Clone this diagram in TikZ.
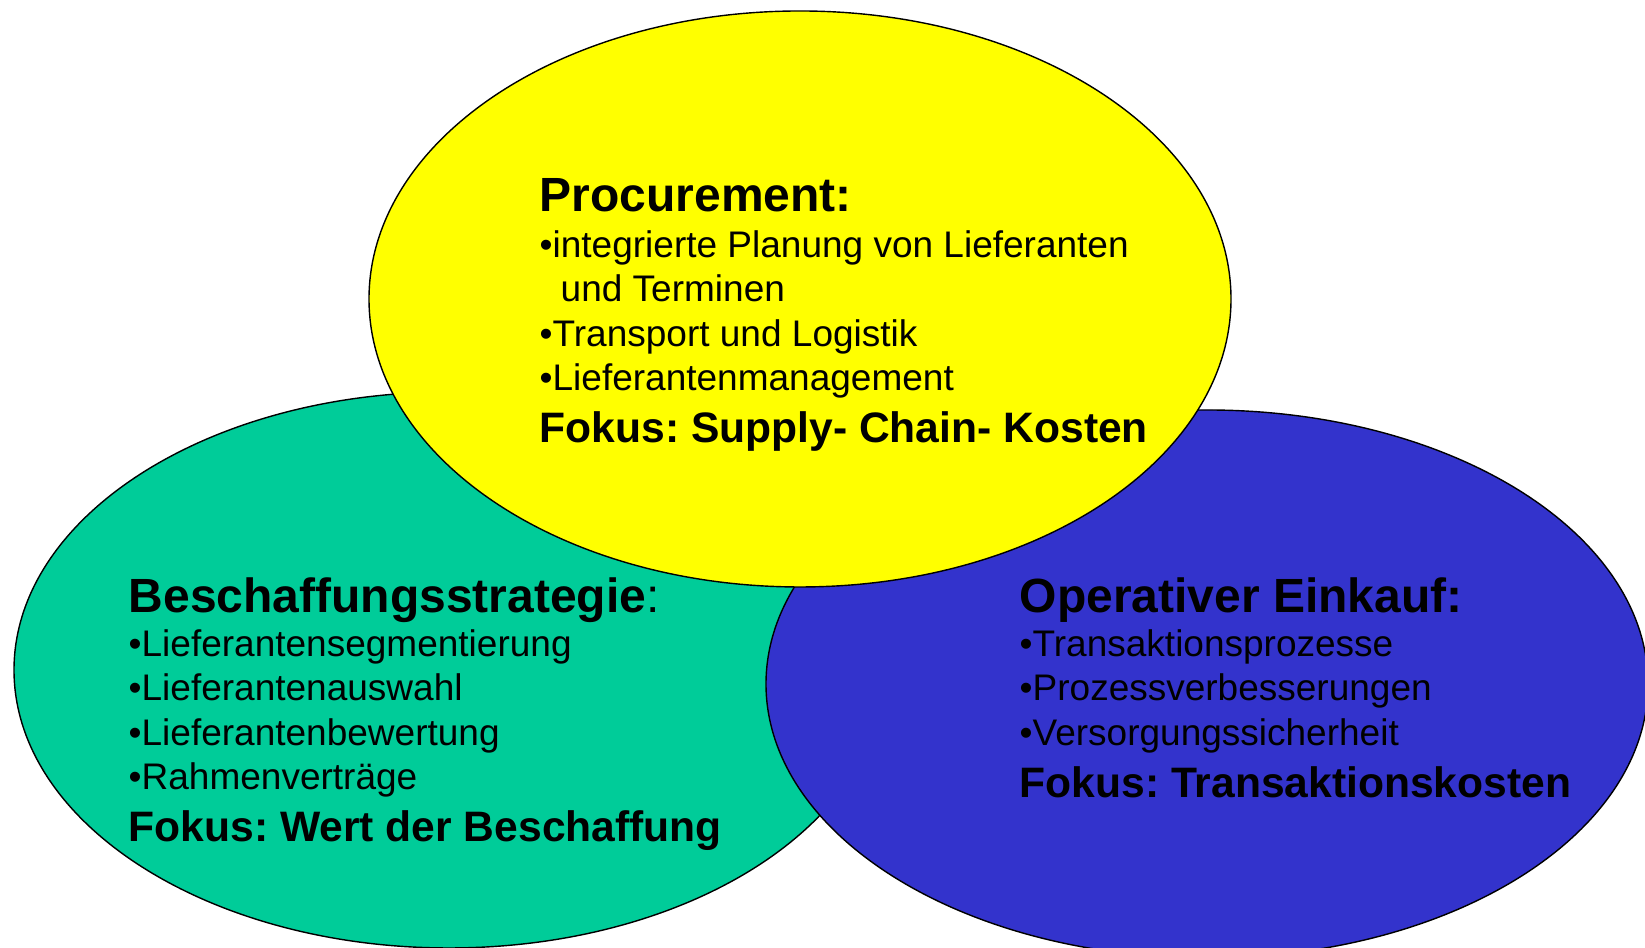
\documentclass[tikz,border=0pt]{standalone}
\usepackage{fontspec}
\setmainfont{Liberation Sans}
\usepackage{xcolor}
\frenchspacing

\definecolor{strategiegruen}{HTML}{00CC99}
\definecolor{einkaufblau}{HTML}{3333CC}
\definecolor{procgelb}{HTML}{FFFF00}

\tikzset{
  headtext/.style={anchor=base west, inner sep=0pt, font=\fontsize{13.66}{16}\selectfont\bfseries},
  bodytext/.style={anchor=base west, inner sep=0pt, font=\fontsize{10.53}{12.6}\selectfont},
  fokustext/.style={anchor=base west, inner sep=0pt, font=\fontsize{12.12}{14.5}\selectfont\bfseries}
}

\begin{document}
\begin{tikzpicture}
        \useasboundingbox (0, 0) rectangle (16.45, 9.48);
        \clip (0, 0) rectangle (16.45, 9.48);

        % drei Bereiche
        \draw [fill=strategiegruen] (4.49, 2.78) ellipse (4.35 and 2.78);
        \draw [fill=einkaufblau] (12.07, 2.64) ellipse (4.41 and 2.74);
        \draw [fill=procgelb] (8.00, 6.49) ellipse (4.31 and 2.88);

        % Procurement
        \node [headtext] (proc) at (5.39, 7.36) {Procurement:};
        \node [bodytext] (proc1) at (5.39, 6.90) {•integrierte Planung von Lieferanten};
        \node [bodytext] (proc1b) at (5.60, 6.46) {und Terminen};
        \node [bodytext] (proc2) at (5.39, 6.01) {•Transport und Logistik};
        \node [bodytext] (proc3) at (5.39, 5.57) {•Lieferantenmanagement};
        \node [fokustext] (procfokus) at (5.39, 5.05) {Fokus: Supply- Chain- Kosten};

        % Beschaffungsstrategie
        \node [headtext] (strat) at (1.28, 3.35) {Beschaffungsstrategie\mdseries:};
        \node [bodytext] (strat1) at (1.28, 2.91) {•Lieferantensegmentierung};
        \node [bodytext] (strat2) at (1.28, 2.47) {•Lieferantenauswahl};
        \node [bodytext] (strat3) at (1.28, 2.02) {•Lieferantenbewertung};
        \node [bodytext] (strat4) at (1.28, 1.58) {•Rahmenverträge};
        \node [fokustext] (stratfokus) at (1.28, 1.06) {Fokus: Wert der Beschaffung};

        % Operativer Einkauf
        \node [headtext] (oper) at (10.19, 3.35) {Operativer Einkauf:};
        \node [bodytext] (oper1) at (10.19, 2.91) {•Transaktionsprozesse};
        \node [bodytext] (oper2) at (10.19, 2.47) {•Prozessverbesserungen};
        \node [bodytext] (oper3) at (10.19, 2.02) {•Versorgungssicherheit};
        \node [fokustext] (operfokus) at (10.19, 1.50) {Fokus: Transaktionskosten};
      \end{tikzpicture}
\end{document}
